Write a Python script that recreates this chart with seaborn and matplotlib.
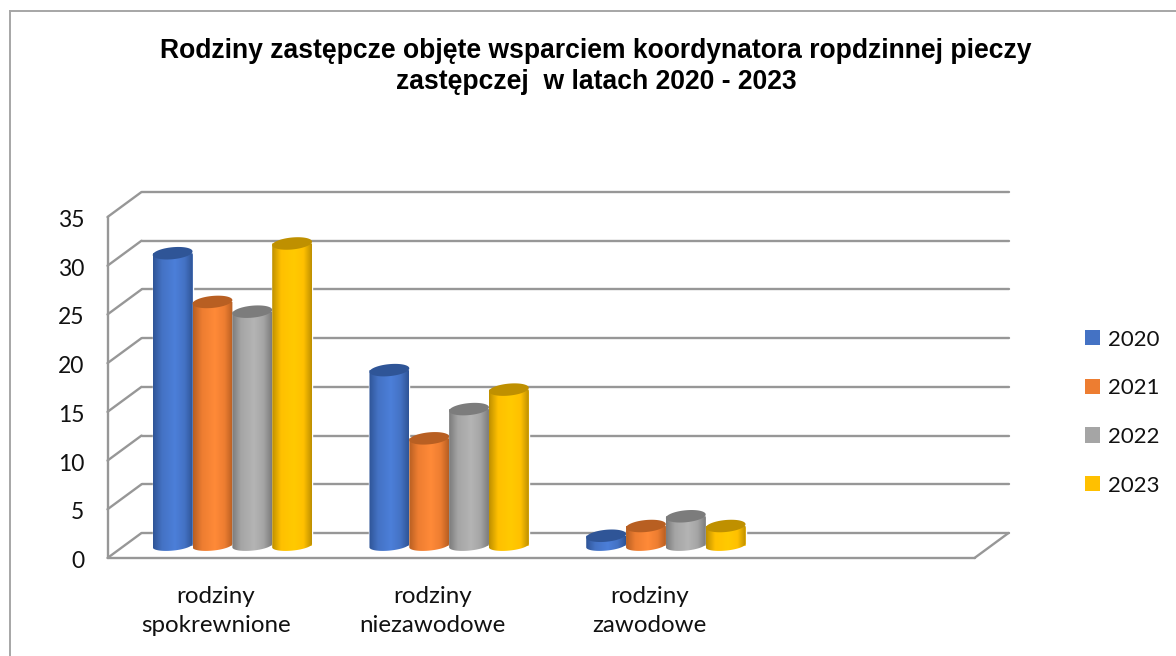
import numpy as np
import pandas as pd
import seaborn as sns
import matplotlib
matplotlib.use("Agg")
import matplotlib.pyplot as plt
import matplotlib.colors as mc
from matplotlib.lines import Line2D
from matplotlib.patches import Polygon, Patch
from matplotlib.transforms import Affine2D

# ---- data ----
categories = ["rodziny\nspokrewnione", "rodziny\nniezawodowe", "rodziny\nzawodowe"]
blank_category = [" "]
years = ["2020", "2021", "2022", "2023"]
v2020 = [30, 18, 1]
v2021 = [25, 11, 2]
v2022 = [24, 14, 3]
v2023 = [31, 16, 2]
yticks = [0, 5, 10, 15, 20, 25, 30, 35]
title_text = "Rodziny zastępcze objęte wsparciem koordynatora ropdzinnej pieczy\nzastępczej  w latach 2020 - 2023"

# ---- style ----
base_colors = ["#4472C4", "#ED7D31", "#A5A5A5", "#FFC000"]
dark_colors = ["#2F5597", "#B85F22", "#7C7C7C", "#BF9000"]
light_colors = ["#4C7FD9", "#FF8A38", "#B4B4B4", "#FFCA00"]
grid_color = "#979797"
W, H = 1176, 656
DX, DY = 16.5, 12.5  # half depth of the 3-D box, pixels

sns.set_theme(style="white")
plt.rcParams["font.family"] = ["Lato", "DejaVu Sans"]

fig = plt.figure(figsize=(W / 100, H / 100), dpi=100)
L, R, B0, T35 = 124, 991, 545.5, 204.5
ax = fig.add_axes([L / W, 1 - B0 / H, (R - L) / W, (B0 - T35) / H])

rows = []
for y, vals in zip(years, [v2020, v2021, v2022, v2023]):
    for c, v in zip(categories, vals):
        rows.append({"cat": c, "year": y, "value": v})
df = pd.DataFrame(rows)

sns.barplot(data=df, x="cat", y="value", hue="year", order=categories + blank_category,
            hue_order=years, palette=base_colors, width=0.735, gap=0, saturation=1,
            errorbar=None, legend=False, ax=ax, zorder=3)
bars = [p for p in ax.patches]

for s in ax.spines.values():
    s.set_visible(False)
ax.set_xlabel("")
ax.set_ylabel("")
ax.set_xlim(-0.5, 3.5)
ax.set_ylim(0, 35)
ax.set_yticks(yticks)
ax.set_facecolor("none")

# ---- box walls, drawn from the y scale through shifted copies of the data transform ----
back = Affine2D().translate(DX + 1, DY)
front = Affine2D().translate(-DX, -DY)
tb, tf = ax.transData + back, ax.transData + front
lkw = dict(color=grid_color, lw=1.7, clip_on=False, zorder=1, solid_capstyle="round")
for v in yticks:
    ax.plot([-0.5, 3.5], [v, v], transform=tb, **lkw)
    a = tf.transform((-0.5, v))
    b = tb.transform((-0.5, v))
    ax.add_line(Line2D([a[0], b[0]], [a[1], b[1]], transform=None, **lkw))
ax.plot([-0.5, -0.5], [0, 35], transform=tf, **lkw)
ax.plot([-0.5, 3.5], [0, 0], transform=tf, **lkw)
a = tf.transform((3.5, 0))
b = tb.transform((3.5, 0))
ax.add_line(Line2D([a[0], b[0]], [a[1], b[1]], transform=None, **lkw))

# ---- cylinders ----
px = (B0 - T35) / 35.0
cap_b = 6.0 / px
cap_k = 1.8 / px
t = np.linspace(0, 2 * np.pi, 80)
n_cat = len(categories)
stops = [0.0, 0.22, 0.55, 0.8, 1.0]
for i, bar in enumerate(bars[: n_cat * len(years)]):
    h = i // n_cat
    x0, w, v = bar.get_x(), bar.get_width(), bar.get_height()
    xc, a_ = x0 + w / 2, w / 2
    cmap = mc.LinearSegmentedColormap.from_list(
        "c", list(zip(stops, [dark_colors[h], base_colors[h], light_colors[h], base_colors[h], dark_colors[h]])))
    z = 10 + h
    # body outline: top edge, right side, lower half of the base ellipse
    tt = np.linspace(0, -np.pi, 40)
    lower = np.c_[xc + a_ * np.cos(tt), cap_b * 0.85 * np.sin(tt) + cap_k * np.cos(tt)]
    outline = np.vstack([[x0, v], [x0 + w, v], lower])
    clip = Polygon(outline, closed=True, transform=ax.transData)
    im = ax.imshow(np.linspace(0, 1, 64)[None, :], extent=(x0, x0 + w, -1.5, v + 1), cmap=cmap,
                   aspect="auto", zorder=z, interpolation="bilinear")
    im.set_clip_box(fig.bbox)
    im.set_clip_path(clip.get_path(), clip.get_transform())
    cap = np.c_[xc + a_ * np.cos(t), v + cap_b * np.sin(t) + cap_k * np.cos(t)]
    ax.add_patch(Polygon(cap, closed=True, fc=dark_colors[h], ec="none", zorder=z + 0.5, clip_on=False))

ax.set_xlim(-0.5, 3.5)
ax.set_ylim(0, 35)

# ---- tick labels on the front plane ----
ax.tick_params(axis="both", length=0)
ax.tick_params(axis="y", pad=28.5, labelsize=16.5, labelcolor="#111111")
ax.tick_params(axis="x", pad=29, labelsize=17.4, labelcolor="#111111")
for lab in ax.get_yticklabels():
    lab.set_transform(lab.get_transform() + Affine2D().translate(0, -DY - 1.5))
for lab in ax.get_xticklabels():
    lab.set_transform(lab.get_transform() + Affine2D().translate(-DX, 0))
    lab.set_linespacing(1.5)

# ---- title, legend, frame ----
fig.text(596 / W, 1 - 66.5 / H, title_text, ha="center", va="center", fontsize=19.1, fontweight="bold",
         family=["Liberation Sans"], color="black", linespacing=1.27)

handles = [Patch(fc=c, ec="none") for c in base_colors]
leg = fig.legend(handles, years, loc="center left", bbox_to_anchor=(1085 / W, 1 - 412.5 / H), frameon=False,
                 fontsize=16, handlelength=0.68, handleheight=0.68, handletextpad=0.36, labelspacing=1.29,
                 borderpad=0, borderaxespad=0)
for tx in leg.get_texts():
    tx.set_color("#111111")

frame_kw = dict(color="#A6A6A6", lw=1.4, transform=fig.transFigure, solid_capstyle="projecting")
fig.add_artist(Line2D([9.5 / W, 9.5 / W], [0, 1 - 11 / H], **frame_kw))
fig.add_artist(Line2D([9.5 / W, 1], [1 - 11 / H, 1 - 11 / H], **frame_kw))

fig.savefig("out.png", dpi=100, facecolor="white")
